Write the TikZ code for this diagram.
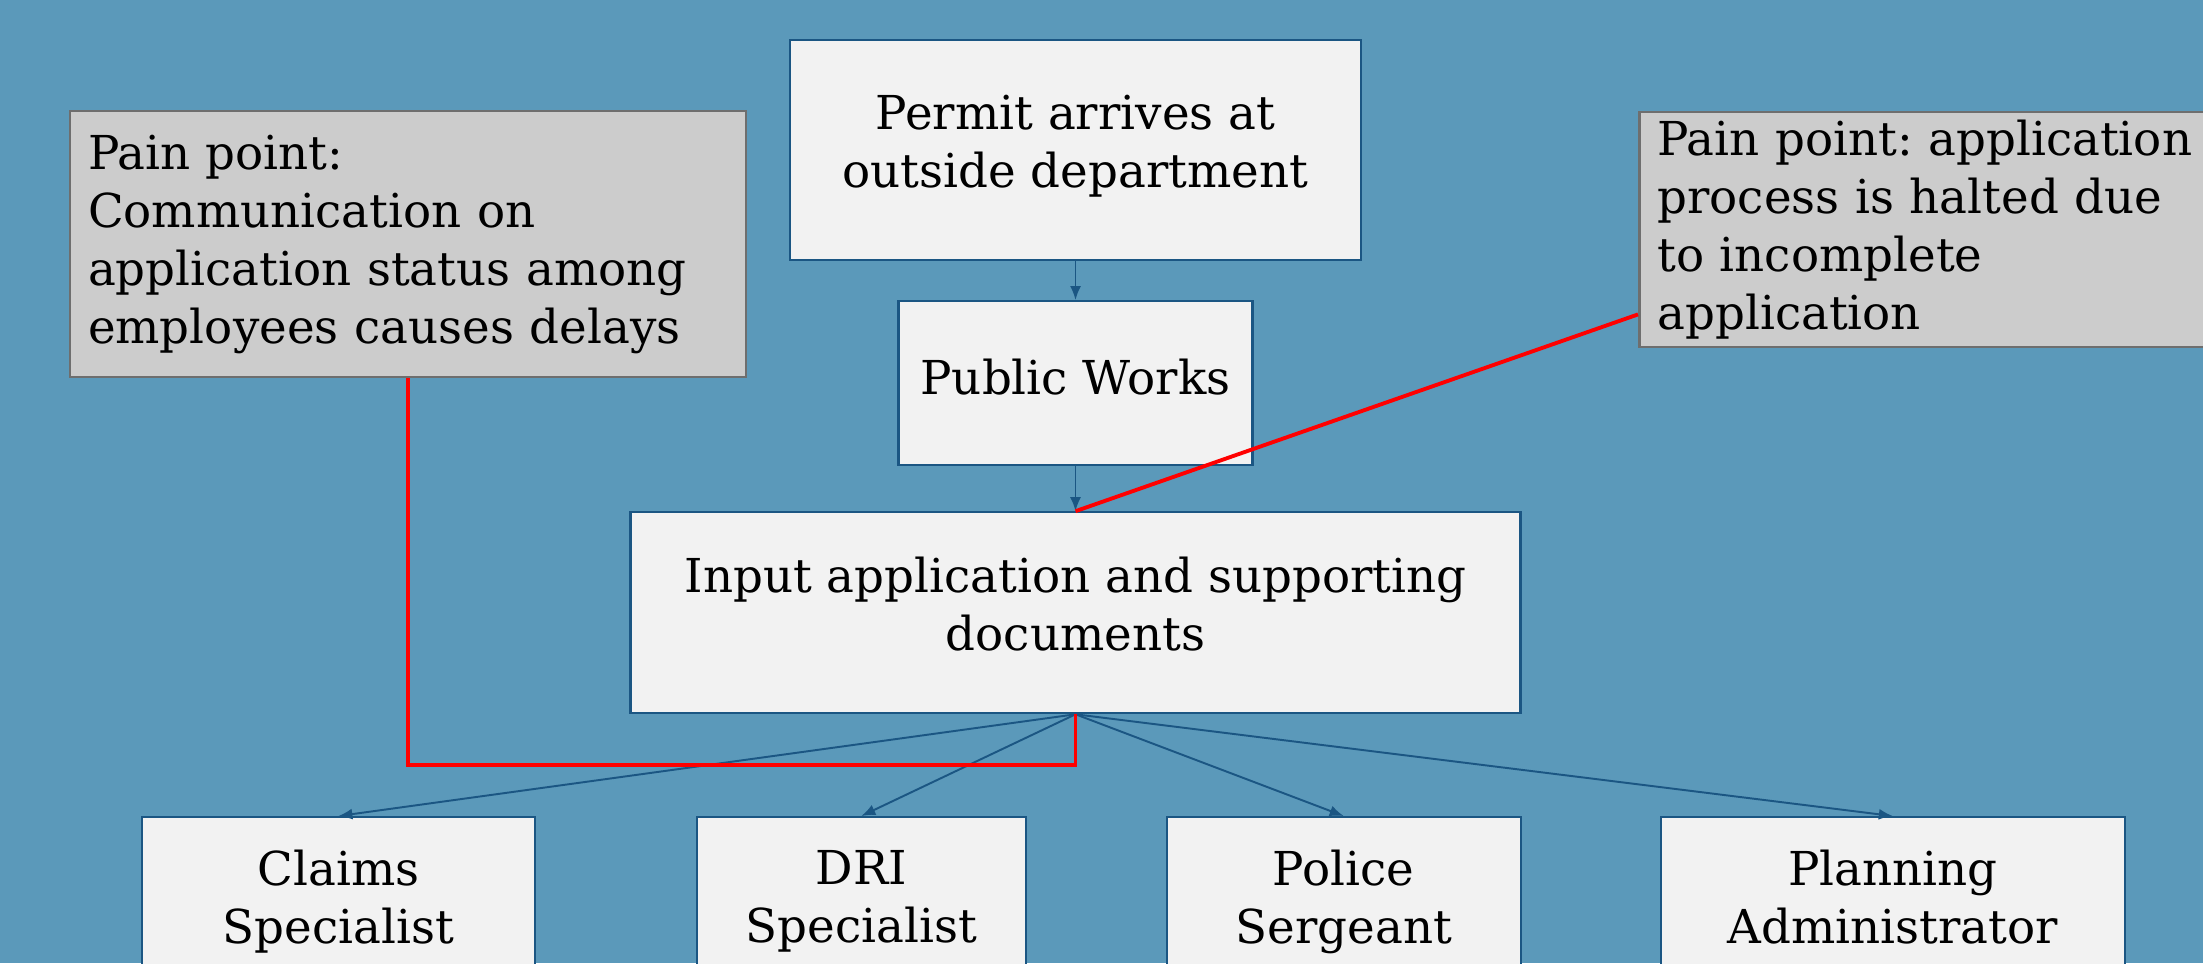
\documentclass[tikz,border=0pt]{standalone}
\usepackage{fontspec}
\setmainfont{DejaVu Serif}
\usepackage{xcolor}
\usetikzlibrary{arrows.meta,positioning}

\definecolor{slate}{HTML}{5B99BA}
\definecolor{boxline}{HTML}{1B5683}
\definecolor{boxfill}{HTML}{F2F2F2}
\definecolor{painfill}{HTML}{CCCCCC}
\definecolor{painedge}{HTML}{6E6E6E}

\frenchspacing

\begin{document}
\begin{tikzpicture}[
      >={Latex[length=1.4mm,width=1.1mm]},
      font=\fontsize{13.3}{16.5}\selectfont,
      stepbox/.style={draw=boxline, line width=0.6pt, fill=boxfill,
      align=center, inner sep=0pt, execute at begin node=\strut,
      execute at end node=\strut},
      painbox/.style={draw=painedge, line width=0.8pt, fill=painfill,
      align=left, inner xsep=0.18cm, inner ysep=0pt},
      flow/.style={->, draw=boxline, line width=0.55pt},
      painline/.style={red, line width=1.1pt}
    ]
    \useasboundingbox (0,0) rectangle (22.03,-9.63);
    \clip (0,0) rectangle (22.03,-9.63);
    \fill[slate] (0,0) rectangle (22.03,-9.63);

    % main chain
    \node[stepbox, minimum width=5.71cm, minimum height=2.2cm] (permit)
    at (10.755,-1.5) {Permit arrives at\\outside department};
    \node[stepbox, minimum width=3.54cm, minimum height=1.64cm,
    below=0.39cm of permit] (works) {Public Works};
    \node[stepbox, minimum width=8.9cm, minimum height=2.01cm,
    below=0.45cm of works] (input) {Input application and supporting\\
    documents};

    \draw[flow] (permit) -- (works);
    \draw[flow] (works) -- (input);

    % departments
    \node[stepbox, anchor=north, minimum width=3.93cm, minimum height=1.76cm]
    (claims) at (3.384,-8.16) {Claims\\Specialist};
    \node[stepbox, anchor=north, minimum width=3.29cm, minimum height=1.76cm]
    (dri) at (8.613,-8.16) {DRI\\Specialist};
    \node[stepbox, anchor=north, minimum width=3.54cm, minimum height=1.76cm]
    (police) at (13.437,-8.16) {Police\\Sergeant};
    \node[stepbox, anchor=north, minimum width=4.64cm, minimum height=1.76cm]
    (planning) at (18.928,-8.16) {Planning\\Administrator};

    \foreach \dept in {claims,dri,police,planning}
      \draw[flow] (input.south) -- (\dept.north);

    % pain points
    \node[painbox, text width=6.4cm, minimum height=2.66cm] (painL)
    at (4.08,-2.44) {Pain point:\\Communication on\\application status among\\
    employees causes delays};
    \node[painbox, anchor=west, text width=6cm, minimum height=2.35cm] (painR)
    at (16.38,-2.295) {Pain point: application\\process is halted due\\
    to incomplete\\application};
    \coordinate[below=0.51cm of input.south] (meet);

    \draw[painline] (painL.south) |- (meet) -- (input.south);
    \draw[painline] ([yshift=0.34cm]painR.south west) -- (input.north);
  \end{tikzpicture}
\end{document}
